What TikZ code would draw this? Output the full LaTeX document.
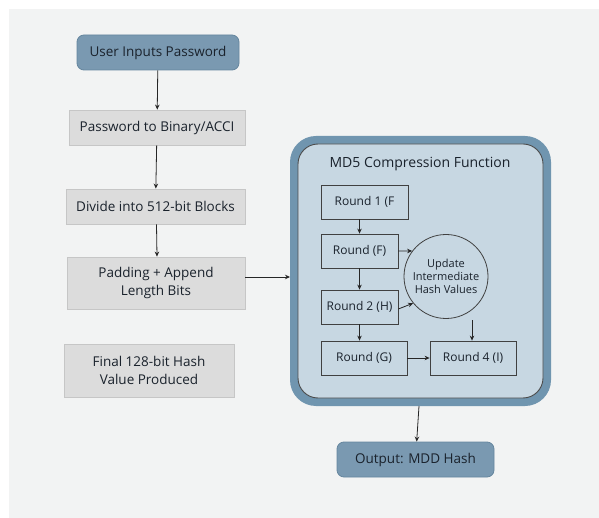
\documentclass[tikz,border=0pt]{standalone}
\usepackage{fontspec}
\setmainfont{Open Sans}
\usetikzlibrary{arrows.meta}
\definecolor{bgpanel}{HTML}{F2F3F3}
\definecolor{bluenode}{HTML}{7A99B1}
\definecolor{blueedge}{HTML}{66869E}
\definecolor{graynode}{HTML}{DCDCDC}
\definecolor{grayedge}{HTML}{C6C6C6}
\definecolor{innerfill}{HTML}{C7D7E2}
\definecolor{frameblue}{HTML}{7095AF}
\definecolor{txt}{HTML}{1A222C}
\tikzset{
  bluebox/.style={draw=blueedge, line width=0.8pt, fill=bluenode, rounded corners=7pt, text=txt, font=\fontsize{13.5}{17.5}\selectfont, inner sep=0pt, align=center},
  graybox/.style={draw=grayedge, line width=0.8pt, fill=graynode, text=txt, font=\fontsize{13.5}{17.5}\selectfont, inner sep=0pt, align=center},
  roundbox/.style={draw=black!75, line width=0.8pt, fill=innerfill, text=txt, font=\fontsize{12}{14}\selectfont, inner sep=0pt, align=center},
  flow/.style={draw=black!85, line width=0.8pt, -{Stealth[length=5pt,width=4.5pt]}},
}
\begin{document}
\begin{tikzpicture}[x=1pt,y=-1pt]
\useasboundingbox (0,0) rectangle (599,518);
\fill[white] (0,0) rectangle (599,518);
\fill[bgpanel] (9,9) rectangle (599,518);

% container
\path[fill=frameblue, rounded corners=26pt] (290,136) rectangle (551,406);
\path[fill=innerfill, draw=black!70, line width=0.9pt, rounded corners=20pt] (298,144) rectangle (543,398);
\node[text=txt, font=\fontsize{14}{16}\selectfont] (title) at (420,164) {MD5 Compression Function};
\coordinate (contL) at (290,277);
\coordinate (contB) at (419,406);

% left column
\node[bluebox, minimum width=162pt, minimum height=35pt] (user) at (158,52.5) {User Inputs Password};
\node[graybox, minimum width=176pt, minimum height=35pt] (bin) at (157,127.5) {Password to Binary/ACCI};
\node[graybox, minimum width=179pt, minimum height=35pt] (div) at (155.5,206.5) {Divide into 512-bit Blocks};
\node[graybox, minimum width=178pt, minimum height=52pt] (pad) at (156,283) {Padding + Append\\Length Bits};
\node[graybox, minimum width=170pt, minimum height=53pt] (fin) at (149,370.5) {Final 128-bit Hash\\Value Produced};

% inner rounds
\node[roundbox, minimum width=87pt, minimum height=34pt] (r1) at (364.5,202) {Round 1 (F};
\node[roundbox, minimum width=77pt, minimum height=34pt] (rf) at (359.5,251) {Round (F)};
\node[roundbox, minimum width=77pt, minimum height=34pt] (r2) at (359.5,307) {Round 2 (H)};
\node[roundbox, minimum width=86pt, minimum height=34pt] (rg) at (364,358) {Round (G)};
\node[roundbox, minimum width=86pt, minimum height=34pt] (r4) at (473,358) {Round 4 (I)};
\node[draw=black!75, line width=0.8pt, circle, minimum size=84pt, inner sep=0pt, text=txt, align=center, font=\fontsize{11}{13}\selectfont] (upd) at (446,276.5) {Update\\Intermediate\\Hash Values};
\coordinate (updB) at (472,320);

% output
\node[bluebox, minimum width=157pt, minimum height=35pt] (out) at (415.5,459.5) {Output: MDD Hash};

% connectors
\draw[flow] (user) -- (bin);
\draw[flow] (bin) -- (div);
\draw[flow] ([xshift=1pt]div.south) -- ([xshift=1pt]pad.north);
\draw[flow] (pad.east |- contL) -- (contL);
\draw[flow] (r1.south -| rf.north) -- (rf.north);
\draw[flow] (rf) -- (r2);
\draw[flow] (r2.south) -- (r2.south |- rg.north);
\draw[flow] (rf.east) -- (upd.143);
\draw[flow] ([yshift=-2pt]r2.east) -- (upd.219);
\draw[flow] (updB) -- (updB |- r4.north);
\draw[flow] (rg) -- (r4);
\draw[flow] (contB) -- (out);
\end{tikzpicture}
\end{document}
